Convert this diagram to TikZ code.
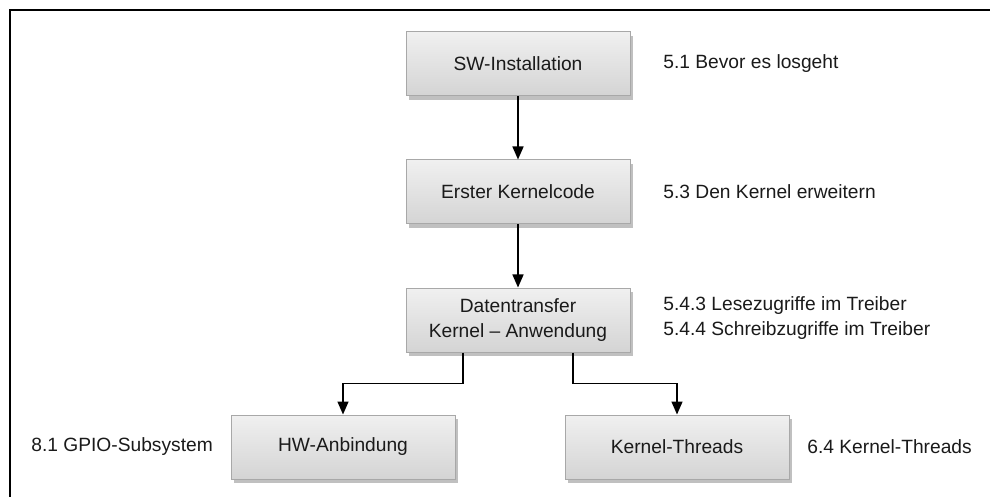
\documentclass[tikz,border=0pt]{standalone}
\usepackage{fontspec}
\setmainfont{Liberation Sans}
\usetikzlibrary{arrows.meta,shadows,positioning}
\definecolor{boxtop}{HTML}{F0F0F0}
\definecolor{boxbot}{HTML}{D4D4D4}
\definecolor{boxline}{HTML}{A8A8A8}
\definecolor{txt}{HTML}{1A1A1A}
\tikzset{
  stage/.style={draw=boxline, line width=0.5pt, top color=boxtop, bottom color=boxbot,
    minimum width=112pt, minimum height=32pt, inner sep=2pt, align=center,
    text=txt, font=\fontsize{9.6}{12.5}\selectfont,
    drop shadow={shadow xshift=1.5pt, shadow yshift=-1.8pt, opacity=0.45, fill=black!55}},
  ref/.style={anchor=west, inner sep=0pt, align=left, text=txt,
    font=\fontsize{9.6}{12.5}\selectfont},
  flow/.style={line width=0.75pt, -{Triangle[width=5.5pt,length=6.5pt]}}
}
\begin{document}
\begin{tikzpicture}[x=0.5pt,y=-0.5pt]
  \useasboundingbox (0,0) rectangle (990,497);
  \draw[line width=1.2pt] (990,10) -| (10,497);
  % chain of stages
  \node[stage] (sw) at (518,64) {SW-Installation};
  \node[stage] (kc) at (518,192) {Erster Kernelcode};
  \node[stage] (dt) at (518,320) {Datentransfer\\Kernel -- Anwendung};
  \node[stage] (hw) at (343,447) {HW-Anbindung};
  \node[stage] (kt) at (677,447) {Kernel-Threads};
  % chapter references
  \node[ref] (rsw) at (663,64) {5.1 Bevor es losgeht};
  \node[ref] (rkc) at (663,192) {5.3 Den Kernel erweitern};
  \node[ref] (rdt) at (663,318) {5.4.3 Lesezugriffe im Treiber\\5.4.4 Schreibzugriffe im Treiber};
  \node[ref] (rhw) at (31,447) {8.1 GPIO-Subsystem};
  \node[ref] (rkt) at (807,447) {6.4 Kernel-Threads};
  \draw[flow] (sw) -- (kc);
  \draw[flow] (kc) -- (dt);
  \draw[flow] ([xshift=-27.5pt]dt.south) -- ++(0,31) -| (hw.north);
  \draw[flow] ([xshift=27.5pt]dt.south) -- ++(0,31) -| (kt.north);
\end{tikzpicture}
\end{document}
